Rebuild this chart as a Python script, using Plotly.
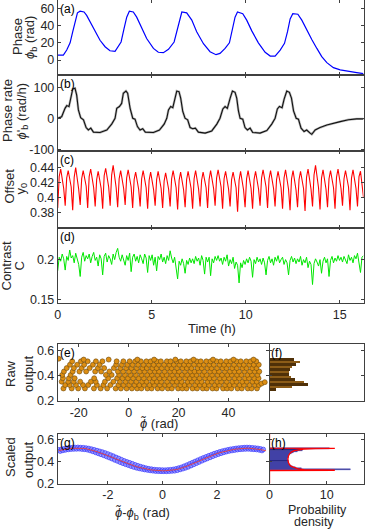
import numpy as np
import plotly.graph_objects as go

FONT = "Liberation Sans, Arial, sans-serif"
INK = "#262626"
W, H = 366, 529
T_END = 16.26

# ---- (a) phase phi_b (rad) vs time (h)
phase_t = [0, 0.30, 0.48, 0.66, 0.80, 0.94, 1.05, 1.19, 1.40, 1.54, 1.72, 1.99, 2.25, 2.52, 2.78, 3.05,
           3.23, 3.37, 3.53, 3.67, 3.81, 4.02, 4.20, 4.47, 4.73, 5.09, 5.35, 5.62,
           5.89, 6.19, 6.33, 6.47, 6.60, 6.86, 7.13, 7.39, 7.75, 8.10, 8.42, 8.63,
           8.90, 9.13, 9.29, 9.43, 9.56, 9.84, 10.05, 10.32, 10.67, 11.03, 11.30, 11.56,
           11.83, 12.06, 12.22, 12.36, 12.50, 12.77, 12.98, 13.24, 13.51, 13.78, 14.04, 14.31,
           14.66, 15.02, 15.46, 15.90, 16.26]
phase_v = [5.8, 5.8, 11.6, 20, 33, 46, 55, 57, 56, 52, 44.5, 33, 23, 15.5, 10.8, 10,
           15.5, 21, 37, 50, 57, 56, 50, 37, 25, 13.5, 9, 8.5,
           12.4, 21, 33, 48, 56, 55, 46.5, 33, 19, 9.7, 6.2, 7.7,
           13.5, 20, 35, 50, 56, 54, 46.5, 34, 20, 9, 4.6, 4.6,
           11.6, 19.4, 33, 48, 54, 53.4, 46.5, 35, 24, 13.5, 3.9, -3.1,
           -8.9, -11.6, -13.5, -14.7, -15.9]

# ---- (b) phase rate (rad/h)
rate_t = [0, 0.21, 0.39, 0.48, 0.60, 0.69, 0.80, 0.92, 1.01, 1.10, 1.22, 1.37, 1.51, 1.63, 1.76, 1.90,
          2.25, 2.61, 2.87, 3.05, 3.14, 3.28, 3.40, 3.49, 3.63, 3.72, 3.85, 3.99, 4.11, 4.24,
          4.38, 4.52, 4.66, 5.09, 5.41, 5.66, 5.80, 5.89, 6.01, 6.12, 6.21, 6.33, 6.45, 6.54,
          6.65, 6.77, 6.91, 7.04, 7.18, 7.32, 7.48, 7.84, 8.19, 8.46, 8.63, 8.78, 8.90, 9.02,
          9.17, 9.29, 9.43, 9.52, 9.61, 9.70, 9.84, 9.96, 10.09, 10.23, 10.37, 10.76, 11.12,
          11.38, 11.56, 11.68, 11.79, 11.93, 12.04, 12.18, 12.32, 12.43, 12.54, 12.68, 12.80,
          12.94, 13.10, 13.24, 13.42, 13.51, 13.69, 13.95, 14.31, 14.66, 15.02, 15.46, 15.90, 16.26]
rate_v = [0, 5, 32, 41, 38, 65, 95, 97, 75, 27, 2, -5, -30, -38, -32, -45,
          -46, -38, -19, 0, 32, 38, 48, 81, 88, 81, 32, 0, -3, -27,
          -38, -34, -45, -46, -38, -19, 0, 27, 38, 34, 59, 88, 86, 65,
          22, 0, -5, -30, -34, -32, -45, -48, -41, -19, 0, 30, 38, 32,
          65, 88, 84, 65, 24, 0, -3, -30, -38, -32, -46, -48, -40,
          -19, 0, 30, 38, 34, 62, 88, 84, 65, 24, 0, -3,
          -32, -43, -38, -48, -52, -38, -30, -22, -16, -11, -5, -2, -2]

# ---- (c) offset y0, evenly sampled over 0..T_END
offset_v = [
    0.386, 0.428, 0.438, 0.427, 0.412, 0.389, 0.426, 0.436, 0.425, 0.414,
    0.383, 0.427, 0.440, 0.426, 0.411, 0.390, 0.425, 0.436, 0.424, 0.415,
    0.386, 0.428, 0.438, 0.427, 0.413, 0.388, 0.424, 0.435, 0.425, 0.412,
    0.385, 0.429, 0.439, 0.426, 0.414, 0.389, 0.430, 0.443, 0.427, 0.413,
    0.387, 0.425, 0.436, 0.424, 0.412, 0.390, 0.426, 0.437, 0.425, 0.414,
    0.386, 0.424, 0.434, 0.423, 0.411, 0.388, 0.425, 0.436, 0.424, 0.413,
    0.385, 0.423, 0.434, 0.422, 0.410, 0.389, 0.424, 0.435, 0.424, 0.412,
    0.386, 0.422, 0.433, 0.423, 0.411, 0.388, 0.425, 0.436, 0.424, 0.413,
    0.384, 0.423, 0.434, 0.422, 0.410, 0.387, 0.424, 0.435, 0.423, 0.412,
    0.385, 0.425, 0.436, 0.424, 0.411, 0.388, 0.423, 0.434, 0.422, 0.413,
    0.386, 0.424, 0.436, 0.425, 0.412, 0.389, 0.426, 0.437, 0.424, 0.414,
    0.385, 0.425, 0.435, 0.423, 0.411, 0.388, 0.424, 0.434, 0.422, 0.413,
    0.381, 0.423, 0.435, 0.424, 0.410, 0.387, 0.425, 0.436, 0.425, 0.412,
    0.385, 0.424, 0.435, 0.423, 0.411, 0.389, 0.426, 0.437, 0.425, 0.414,
    0.386, 0.425, 0.436, 0.424, 0.412, 0.388, 0.424, 0.435, 0.423, 0.413,
    0.385, 0.426, 0.437, 0.425, 0.411, 0.383, 0.425, 0.436, 0.424, 0.410,
    0.387, 0.424, 0.435, 0.423, 0.412, 0.382, 0.427, 0.438, 0.426, 0.411,
    0.388, 0.430, 0.443, 0.428, 0.413, 0.384, 0.426, 0.437, 0.425, 0.411,
    0.387, 0.425, 0.436, 0.424, 0.413, 0.385, 0.427, 0.438, 0.426, 0.412,
    0.389, 0.425, 0.436, 0.424, 0.414, 0.383, 0.426, 0.437, 0.425, 0.412,
    0.388, 0.428, 0.435, 0.421, 0.400]

# ---- (d) contrast C, evenly sampled over 0..T_END
contrast_v = [
    0.186, 0.203, 0.198, 0.207, 0.201, 0.187, 0.204, 0.199, 0.212, 0.202,
    0.205, 0.196, 0.208, 0.200, 0.194, 0.179, 0.203, 0.209, 0.198, 0.205,
    0.201, 0.207, 0.196, 0.204, 0.209, 0.199, 0.203, 0.192, 0.206, 0.201,
    0.181, 0.204, 0.208, 0.197, 0.205, 0.201, 0.194, 0.207, 0.200, 0.209,
    0.214, 0.203, 0.198, 0.206, 0.200, 0.193, 0.205, 0.199, 0.208, 0.185,
    0.203, 0.207, 0.198, 0.204, 0.196, 0.206, 0.201, 0.195, 0.207, 0.202,
    0.184, 0.205, 0.199, 0.206, 0.193, 0.203, 0.186, 0.204, 0.200, 0.207,
    0.197, 0.203, 0.195, 0.205, 0.199, 0.211, 0.202, 0.196, 0.203, 0.190,
    0.176, 0.198, 0.193, 0.201, 0.195, 0.183, 0.199, 0.194, 0.202, 0.196,
    0.201, 0.195, 0.204, 0.198, 0.202, 0.193, 0.205, 0.199, 0.182, 0.203,
    0.197, 0.203, 0.180, 0.201, 0.196, 0.204, 0.199, 0.205, 0.198, 0.202,
    0.194, 0.203, 0.198, 0.206, 0.192, 0.200, 0.195, 0.203, 0.189, 0.197,
    0.193, 0.171, 0.196, 0.190, 0.199, 0.194, 0.201, 0.196, 0.203, 0.198,
    0.178, 0.200, 0.195, 0.203, 0.197, 0.201, 0.194, 0.202, 0.196, 0.181,
    0.199, 0.204, 0.196, 0.201, 0.193, 0.203, 0.198, 0.205, 0.196, 0.200,
    0.203, 0.194, 0.200, 0.196, 0.181, 0.199, 0.204, 0.197, 0.202, 0.195,
    0.201, 0.197, 0.204, 0.193, 0.200, 0.196, 0.203, 0.190, 0.198, 0.194,
    0.169, 0.195, 0.201, 0.197, 0.192, 0.200, 0.183, 0.198, 0.203, 0.196,
    0.201, 0.179, 0.199, 0.204, 0.196, 0.202, 0.198, 0.205, 0.199, 0.203,
    0.197, 0.204, 0.200, 0.195, 0.206, 0.199, 0.203, 0.196, 0.205, 0.201,
    0.208, 0.198, 0.184, 0.203, 0.205]

# ---- (e) raw output vs unwrapped phase: rows of (output level, phase values)
raw_rows = [
    (0.300, [-26.1, -22.8, -20.2, -17.5, -13.9, -11.2, -8.6, -5.2, -3.1, -0.8, 1.3, 3.4, 5.1, 7.5, 9.2, 11.6,
             13.4, 15.7, 17.3, 19.8, 21.5, 23.2, 25.6, 27.4, 29.7, 31.3, 33.6, 35.2, 37.8, 39.4, 41.1,
             43.6, 45.3, 47.7, 49.2, 51.4]),
    (0.327, [-25.4, -23.6, -21.1, -18.3, -16.2, -12.7, -10.1, -7.3, -4.1, -2.0, 0.2, 2.4, 4.3, 6.2, 8.4,
             10.3, 12.5, 14.6, 16.2, 18.5, 20.7, 22.4, 24.3, 26.6, 28.5, 30.4, 32.2, 34.5, 36.3, 38.6,
             40.4, 42.3, 44.5, 46.2, 48.4, 50.6, 52.2]),
    (0.354, [-26.8, -24.2, -22.0, -19.4, -15.1, -13.2, -9.5, -6.1, -3.5, -1.2, 1.0, 3.1, 5.4, 7.2, 9.6,
             11.3, 13.1, 15.4, 17.6, 19.3, 21.2, 23.6, 25.3, 27.5, 29.2, 31.6, 33.3, 35.5, 37.1, 39.3,
             41.6, 43.2, 45.5, 47.3, 49.6, 51.3]),
    (0.381, [-26.3, -23.9, -21.6, -13.8, -8.2, -4.6, -2.4, -0.3, 1.8, 4.0, 6.1, 8.3, 10.2, 12.4, 14.3,
             16.5, 18.2, 20.4, 22.6, 24.5, 26.3, 28.4, 30.6, 32.4, 34.2, 36.5, 38.3, 40.2, 42.5, 44.3,
             46.6, 48.2, 50.3, 52.0]),
    (0.408, [-26.6, -23.2, -9.1, -6.8, -3.8, -1.5, 0.7, 2.9, 5.2, 7.4, 9.3, 11.5, 13.6, 15.2, 17.4,
             19.6, 21.3, 23.4, 25.5, 27.2, 29.5, 31.2, 33.4, 35.6, 37.4, 39.5, 41.3, 43.4, 45.2, 47.5,
             49.4, 51.6]),
    (0.435, [-25.9, -22.4, -19.7, -17.0, -13.4, -11.0, -7.7, -4.3, -2.2, 0.1, 2.2, 4.5, 6.4, 8.6, 10.5,
             12.2, 14.4, 16.6, 18.4, 20.2, 22.5, 24.7, 26.4, 28.2, 30.3, 32.6, 34.4, 36.2, 38.5, 40.6,
             42.4, 44.2, 46.4, 48.6, 50.5, 52.3]),
    (0.462, [-24.8, -21.9, -18.8, -15.6, -12.3, -9.8, -5.9, -3.3, -1.0, 1.1, 3.3, 5.5, 7.3, 9.5, 11.2,
             13.3, 15.5, 17.2, 19.4, 21.6, 23.3, 25.2, 27.6, 29.3, 31.5, 33.2, 35.4, 37.6, 39.2, 41.5,
             43.3, 45.6, 47.2, 49.5, 51.2]),
    (0.489, [-23.5, -20.6, -17.8, -14.3, -11.6, -5.0, -2.7, -0.5, 1.6, 3.8, 5.9, 8.1, 10.0, 12.1, 14.2,
             16.3, 18.1, 20.3, 22.2, 24.1, 26.2, 28.3, 30.1, 32.3, 34.1, 36.4, 38.2, 40.1, 42.2, 44.4,
             46.1, 48.3, 50.1, 52.1]),
    (0.516, [-22.6, -19.1, -16.4, -13.1, -10.5, -4.8, -2.1, 0.4, 2.6, 4.9, 7.1, 8.8, 11.2, 12.9, 15.3,
             16.8, 19.2, 20.9, 23.1, 24.8, 27.3, 28.9, 31.1, 32.8, 35.2, 36.9, 39.1, 40.8, 43.2, 44.9,
             47.1, 48.8, 51.1]),
    (0.530, [-18.0, -8.0, 3.5, 10.2, 18.7, 26.0, 33.8, 42.0, 50.0]),
]
raw_extra_x = [-28.0, 53.2, 54.5]
raw_extra_y = [0.537, 0.339, 0.350]

# ---- (f) histogram of raw output
raw_hist_y = [0.53, 0.51, 0.49, 0.47, 0.45, 0.43, 0.41, 0.39, 0.37, 0.35, 0.33, 0.31, 0.29]
raw_hist_d = [4.2, 5.2, 4.6, 3.9, 3.5, 3.3, 3.4, 3.7, 4.4, 5.9, 6.6, 3.8, 1.0]

# ---- (g) scaled output vs phase difference
scaled_v = [
    0.507, 0.494, 0.512, 0.500, 0.516, 0.505, 0.521, 0.509, 0.524, 0.512,
    0.527, 0.513, 0.528, 0.514, 0.529, 0.515, 0.527, 0.512, 0.526, 0.510,
    0.523, 0.506, 0.519, 0.499, 0.513, 0.491, 0.507, 0.482, 0.500, 0.473,
    0.493, 0.464, 0.486, 0.455, 0.478, 0.445, 0.469, 0.435, 0.459, 0.425,
    0.449, 0.414, 0.438, 0.404, 0.428, 0.393, 0.417, 0.383, 0.406, 0.374,
    0.397, 0.366, 0.389, 0.357, 0.380, 0.349, 0.370, 0.342, 0.362, 0.336,
    0.354, 0.331, 0.347, 0.326, 0.340, 0.322, 0.335, 0.318, 0.331, 0.315,
    0.327, 0.312, 0.325, 0.311, 0.324, 0.310, 0.323, 0.310, 0.322, 0.310,
    0.324, 0.311, 0.326, 0.313, 0.329, 0.315, 0.334, 0.320, 0.341, 0.327,
    0.348, 0.334, 0.358, 0.342, 0.368, 0.351, 0.379, 0.362, 0.390, 0.373,
    0.401, 0.384, 0.412, 0.395, 0.423, 0.406, 0.433, 0.417, 0.443, 0.427,
    0.453, 0.437, 0.462, 0.447, 0.472, 0.457, 0.480, 0.466, 0.488, 0.474,
    0.495, 0.482, 0.501, 0.489, 0.507, 0.495, 0.512, 0.499, 0.516, 0.503,
    0.520, 0.507, 0.523, 0.510, 0.525, 0.512, 0.527, 0.513, 0.528, 0.514,
    0.527, 0.512, 0.525, 0.510, 0.523, 0.508, 0.520, 0.504, 0.515, 0.499,
    0.510]
fit_v = [0.499, 0.505, 0.510, 0.515, 0.518, 0.520, 0.521, 0.522, 0.521, 0.519,
         0.516, 0.511, 0.504, 0.497, 0.489, 0.481, 0.472, 0.463, 0.454, 0.444,
         0.434, 0.423, 0.413, 0.402, 0.392, 0.383, 0.375, 0.366, 0.357, 0.350,
         0.343, 0.337, 0.331, 0.327, 0.323, 0.320, 0.318, 0.317, 0.316, 0.316,
         0.317, 0.319, 0.321, 0.326, 0.332, 0.339, 0.348, 0.357, 0.368, 0.379,
         0.390, 0.401, 0.412, 0.423, 0.433, 0.443, 0.453, 0.463, 0.472, 0.480,
         0.487, 0.494, 0.500, 0.505, 0.509, 0.513, 0.516, 0.518, 0.520, 0.521,
         0.520, 0.518, 0.516, 0.513, 0.508, 0.503, 0.497]

# ---- (h) histogram of scaled output and expected density
scaled_hist_y = [0.325, 0.335, 0.345, 0.355, 0.365, 0.375, 0.385, 0.395, 0.405, 0.415,
                 0.425, 0.435, 0.445, 0.455, 0.465, 0.475, 0.485, 0.495, 0.505, 0.515]
scaled_hist_d = [14.1, 5.6, 4.5, 4.0, 3.7, 3.5, 3.4, 3.3, 3.25, 3.2,
                 3.2, 3.25, 3.3, 3.4, 3.55, 3.8, 4.2, 4.8, 5.8, 10.5]
pdf_d = [0, 0, 11.4, 8.0, 6.0, 5.0, 4.3, 3.8, 3.5, 3.3, 3.2, 3.3, 3.5, 3.8, 4.3, 5.0, 6.0, 8.0, 11.4, 0, 0]
pdf_y = [0.20, 0.318, 0.3205, 0.3225, 0.327, 0.333, 0.342, 0.355, 0.37, 0.39, 0.42, 0.45, 0.47,
         0.485, 0.498, 0.507, 0.513, 0.5175, 0.5195, 0.521, 0.65]

t_grid = np.linspace(0, T_END, len(offset_v))
g_x = np.linspace(-3.80, 3.70, len(scaled_v))
fit_x = np.linspace(-3.8, 3.8, len(fit_v))
raw_x = [x for _, xs in raw_rows for x in xs] + raw_extra_x
raw_y = [y for y, xs in raw_rows for _ in xs] + raw_extra_y


def px(x):
    return x / W


def py(y):
    return 1 - y / H


XL, XR, XM = px(57.7), px(363.5), px(268.5)
XM2 = px(269.5)

fig = go.Figure()

fig.add_trace(go.Scatter(x=phase_t, y=phase_v, mode="lines", line=dict(color="#0000ff", width=1.2),
                         xaxis="x", yaxis="y"))
fig.add_trace(go.Scatter(x=rate_t, y=rate_v, mode="lines", line=dict(color="#b8b8b8", width=2.4),
                         xaxis="x2", yaxis="y2"))
fig.add_trace(go.Scatter(x=rate_t, y=rate_v, mode="lines", line=dict(color="#111111", width=1.1),
                         xaxis="x2", yaxis="y2"))
fig.add_trace(go.Scatter(x=t_grid, y=offset_v, mode="lines", line=dict(color="#ff0000", width=1.1),
                         xaxis="x3", yaxis="y3"))
fig.add_trace(go.Scatter(x=t_grid, y=contrast_v, mode="lines", line=dict(color="#00e600", width=1.0),
                         xaxis="x4", yaxis="y4"))
fig.add_trace(go.Scatter(x=raw_x, y=raw_y, mode="markers",
                         marker=dict(size=5, color="#dd8e12", line=dict(color="#6b4a10", width=0.6)),
                         xaxis="x5", yaxis="y5"))
fig.add_trace(go.Bar(x=raw_hist_d, y=raw_hist_y, orientation="h", width=0.02,
                     marker=dict(color=["#4f3008" if i % 2 == 0 else "#8c5c18" for i in range(len(raw_hist_y))],
                                 line=dict(width=0)),
                     xaxis="x6", yaxis="y6"))
fig.add_trace(go.Scatter(x=g_x, y=scaled_v, mode="markers",
                         marker=dict(size=4.5, color="rgba(140,140,255,0.75)", line=dict(color="#3333ff", width=0.7)),
                         xaxis="x7", yaxis="y7"))
fig.add_trace(go.Scatter(x=fit_x, y=fit_v, mode="lines", line=dict(color="#ff4020", width=0.8),
                         xaxis="x7", yaxis="y7"))
fig.add_trace(go.Bar(x=scaled_hist_d, y=scaled_hist_y, orientation="h", width=0.01,
                     marker=dict(color="#1e1e6e", line=dict(color="#4a4ad0", width=0.4)),
                     xaxis="x8", yaxis="y8"))
fig.add_trace(go.Scatter(x=pdf_d, y=pdf_y, mode="lines", line=dict(color="#ff0000", width=1.3),
                         xaxis="x8", yaxis="y8"))


def axis(**kw):
    base = dict(showline=True, linecolor="#404040", linewidth=0.8, mirror="ticks", ticks="inside",
                ticklen=3, tickcolor="#404040", tickwidth=0.8, showgrid=False, zeroline=False,
                automargin=False, tickfont=dict(family=FONT, size=12.5, color=INK))
    base.update(kw)
    return base


time_ticks = dict(range=[0, T_END], tickvals=[0, 5, 10, 15])
rows = [(0, 75), (75, 151), (151, 227.5), (227.5, 303)]
fig.update_layout(
    width=W, height=H, margin=dict(l=0, r=0, t=0, b=0), showlegend=False,
    plot_bgcolor="white", paper_bgcolor="white", font=dict(family=FONT, color=INK), bargap=0,
    xaxis=axis(domain=[XL, XR], anchor="y", showticklabels=False, **time_ticks),
    yaxis=axis(domain=[py(rows[0][1]), py(rows[0][0])], anchor="x", range=[-17.5, 70],
               tickvals=[0, 20, 40, 60]),
    xaxis2=axis(domain=[XL, XR], anchor="y2", showticklabels=False, **time_ticks),
    yaxis2=axis(domain=[py(rows[1][1]), py(rows[1][0])], anchor="x2", range=[-106, 140],
                tickvals=[-100, 0, 100], ticktext=["-100", "0", "100"]),
    xaxis3=axis(domain=[XL, XR], anchor="y3", showticklabels=False, **time_ticks),
    yaxis3=axis(domain=[py(rows[2][1]), py(rows[2][0])], anchor="x3", range=[0.36, 0.462],
                tickvals=[0.38, 0.4, 0.42, 0.44], ticktext=["0.38", "0.4", "0.42", "0.44"]),
    xaxis4=axis(domain=[XL, XR], anchor="y4", **time_ticks),
    yaxis4=axis(domain=[py(rows[3][1]), py(rows[3][0])], anchor="x4", range=[0.146, 0.24],
                tickvals=[0.15, 0.2], ticktext=["0.15", "0.2"]),
    xaxis5=axis(domain=[XL, XM], anchor="y5", range=[-28.4, 56], tickvals=[-20, 0, 20, 40],
                ticktext=["-20", "0", "20", "40"]),
    yaxis5=axis(domain=[py(401), py(344)], anchor="x5", range=[0.2, 0.654], tickvals=[0.2, 0.4, 0.6],
                ticktext=["0.2", "0.4", "0.6"]),
    xaxis6=axis(domain=[XM2, XR], anchor="y6", range=[0, 16.4], ticks="", showticklabels=False),
    yaxis6=axis(domain=[py(401), py(344)], anchor="x6", range=[0.2, 0.654], tickvals=[0.2, 0.4, 0.6],
                showticklabels=False),
    xaxis7=axis(domain=[XL, XM], anchor="y7", range=[-3.84, 3.89], tickvals=[-2, 0, 2],
                ticktext=["-2", "0", "2"]),
    yaxis7=axis(domain=[py(483.5), py(434)], anchor="x7", range=[0.2, 0.65], tickvals=[0.2, 0.4, 0.6],
                ticktext=["0.2", "0.4", "0.6"]),
    xaxis8=axis(domain=[XM2, XR], anchor="y8", range=[0, 16.4], tickvals=[0, 10]),
    yaxis8=axis(domain=[py(483.5), py(434)], anchor="x8", range=[0.2, 0.65], tickvals=[0.2, 0.4, 0.6],
                showticklabels=False),
)

notes = []
# panel letters
for lab, x0, y0 in [("(a)", 58.5, 0.5), ("(b)", 58.5, 76), ("(c)", 58.5, 152), ("(d)", 58.5, 228.5),
                    ("(e)", 58.5, 344.5), ("(f)", 270, 344.5), ("(g)", 58.5, 434.5), ("(h)", 270, 434.5)]:
    notes.append(dict(text=lab, x=px(x0), y=py(y0), xref="paper", yref="paper", xanchor="left",
                      yanchor="top", showarrow=False, font=dict(size=12, color="#000000"), borderpad=0))
# y titles (rotated)
for lab, x0, y0 in [("Phase", 17, 37), ("<i>ϕ</i><sub>b</sub> (rad)", 30, 37),
                    ("Phase rate", 7, 111), ("<i>ϕ</i>'<sub>b</sub> (rad/h)", 21.5, 111),
                    ("Offset", 8.5, 186), ("y<sub>0</sub>", 20.5, 189),
                    ("Contrast", 5.5, 266), ("C", 18.5, 266),
                    ("Raw", 10, 374), ("output", 28, 374),
                    ("Scaled", 10, 457), ("output", 28, 460)]:
    notes.append(dict(text=lab, x=px(x0), y=py(y0), xref="paper", yref="paper", xanchor="center",
                      yanchor="middle", textangle=-90, showarrow=False, font=dict(size=13, color=INK)))
# x titles
for lab, x0, y0, fs in [("Time (h)", 212, 328, 13), ("<i>ϕ̃</i> (rad)", 159, 423, 13),
                        ("<i>ϕ̃</i>-<i>ϕ</i><sub>b</sub> (rad)", 142, 513, 13),
                        ("Probability", 317, 509.5, 12.5), ("density", 314, 521.5, 12.5)]:
    notes.append(dict(text=lab, x=px(x0), y=py(y0), xref="paper", yref="paper", xanchor="center",
                      yanchor="middle", showarrow=False, font=dict(size=fs, color=INK), borderpad=0))
fig.update_layout(annotations=notes)

fig.write_html("out.html", config={"displayModeBar": False},
               post_script="document.body.style.margin='0px';document.body.style.overflow='hidden';")
